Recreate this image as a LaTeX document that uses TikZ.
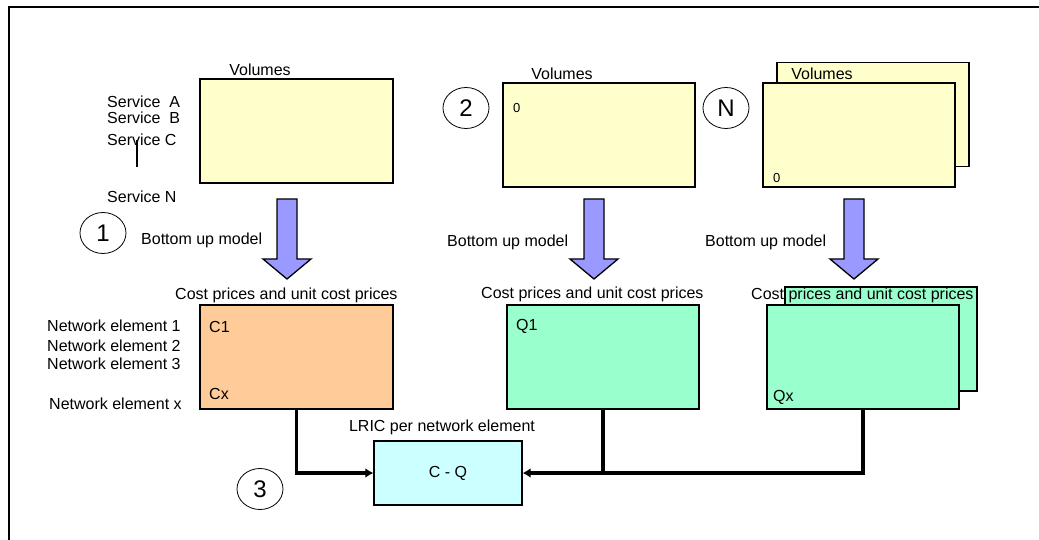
\documentclass[tikz,border=0pt]{standalone}
\usepackage{fontspec}
\setmainfont{Liberation Sans}
\usetikzlibrary{arrows.meta,shapes.geometric}
\definecolor{volyellow}{HTML}{FFFFCC}
\definecolor{costorange}{HTML}{FFCC99}
\definecolor{costgreen}{HTML}{99FFCC}
\definecolor{lriccyan}{HTML}{CCFFFF}
\definecolor{arrowblue}{HTML}{9999FF}

\begin{document}
\begin{tikzpicture}[x=1pt, y=-1pt,
  box/.style={draw, line width=1.4pt, minimum width=192pt, minimum height=104pt, inner sep=0pt},
  txt/.style={font=\fontsize{16}{19}\selectfont, inner sep=0pt},
  small/.style={font=\fontsize{13}{15}\selectfont, inner sep=0pt},
  num/.style={draw, ellipse, line width=0.8pt, minimum width=46pt, minimum height=41pt, inner sep=0pt, font=\fontsize{24}{27}\selectfont},
  blockarr/.style={draw, fill=arrowblue, line width=1.3pt},
  link/.style={line width=3.5pt},
  >={Latex[length=8pt,width=10pt]}]
  \useasboundingbox (0,0) rectangle (1039,540);
  \draw[line width=2.4pt] (9,540) -- (9,7) -- (1039,7);

  % volume boxes
  \node[box, fill=volyellow, minimum width=193pt] (vol1) at (296.5,131) {};
  \node[txt] (vollbl1) at (260,70) {Volumes};
  \node[box, fill=volyellow] (vol2) at (599,135) {};
  \node[txt] (vollbl2) at (562,74) {Volumes};
  \node[box, fill=volyellow] (volNb) at (873,114.5) {};
  \node[txt] (vollblN) at (822,74) {Volumes};
  \node[box, fill=volyellow] (volN) at (859,135) {};
  \node[small, anchor=west] (zero2) at (513,108) {0};
  \node[small, anchor=west] (zeroN) at (773,178) {0};

  \node[txt, anchor=west] (servA) at (107,102) {Service~ A};
  \node[txt, anchor=west] (servB) at (107,118) {Service~ B};
  \node[txt, anchor=west] (servC) at (107,140) {Service C};
  \node[txt, anchor=west] (servN) at (107,197) {Service N};
  \draw[line width=2.5pt] (137,140) -- (137,167);

  \node[num] (step1) at (103,233) {1};
  \node[num] (step2) at (466,108) {2};
  \node[num] (stepN) at (726,108) {N};
  \node[num] (step3) at (260,489) {3};

  \node[txt, anchor=west] (bum1) at (141,240) {Bottom up model};
  \node[txt, anchor=west] (bum2) at (447,242) {Bottom up model};
  \node[txt, anchor=west] (bumN) at (705,242) {Bottom up model};
  \foreach \x in {287,594,854}
  {
    \draw[blockarr] (\x-10,199) -- (\x+10,199) -- (\x+10,259) -- (\x+24,259)
      -- (\x,279) -- (\x-24,259) -- (\x-10,259) -- cycle;
  }

  % cost boxes
  \node[txt, anchor=west] (costlbl1) at (175,295) {Cost prices and unit cost prices};
  \node[box, fill=costorange, minimum width=193pt] (cost1) at (296.5,357) {};
  \node[txt, anchor=west] (costlbl2) at (481,294) {Cost prices and unit cost prices};
  \node[box, fill=costgreen] (cost2) at (603,357) {};
  \node[box, fill=costgreen] (costNb) at (881,339) {};
  \node[txt, anchor=west] (costlblN) at (751,295) {Cost prices and unit cost prices};
  \node[box, fill=costgreen] (costN) at (863,357) {};

  \foreach \n/\y in {1/326, 2/346, 3/364}
  {
    \node[txt, anchor=west] (ne\n) at (47,\y) {Network element \n};
  }
  \node[txt, anchor=west] (nex) at (49,404) {Network element x};

  \node[txt, anchor=west] (c1) at (209,327) {C1};
  \node[txt, anchor=west] (cx) at (209,394) {Cx};
  \node[txt, anchor=west] (q1) at (516,326) {Q1};
  \node[txt, anchor=west] (qx) at (773,397) {Qx};

  % LRIC
  \node[txt] (lriclbl) at (442,427) {LRIC per network element};
  \node[box, txt, fill=lriccyan, minimum width=148pt, minimum height=64pt] (lric) at (448,473) {C - Q};
  \draw[link, ->] (cost1.south) |- (lric.west);
  \draw[link, ->] (costN.south) |- (lric.east);
  \draw[link] (cost2.south) -- (cost2.south |- lric.east);
\end{tikzpicture}
\end{document}
